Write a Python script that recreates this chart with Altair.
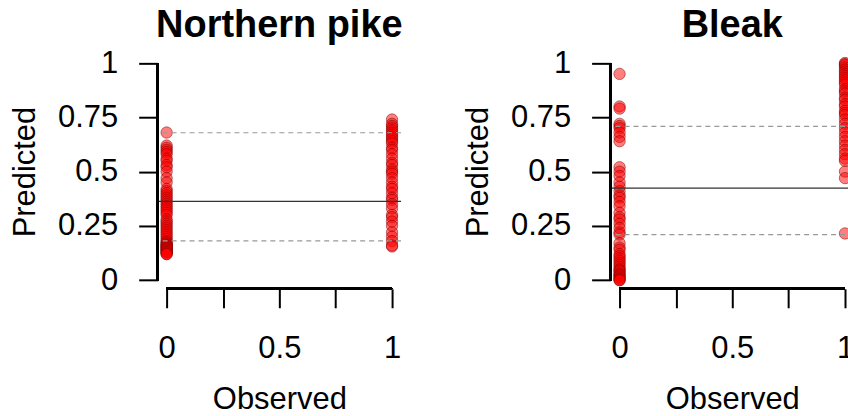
import altair as alt
import pandas as pd

FONT = "Liberation Sans"

# Northern pike: predicted values for observed absences (0) and presences (1)
pike_absent = [0.68, 0.62, 0.61, 0.60, 0.59, 0.58, 0.56, 0.55, 0.53, 0.52, 0.50, 0.47,
               0.45, 0.42, 0.41, 0.40, 0.39, 0.38, 0.37, 0.36, 0.35, 0.34, 0.33, 0.32,
               0.31, 0.30, 0.28, 0.27, 0.26, 0.25, 0.24, 0.23, 0.22, 0.21, 0.20, 0.19,
               0.18, 0.175, 0.17, 0.165, 0.16, 0.16, 0.155, 0.15, 0.15, 0.145, 0.14, 0.14,
               0.135, 0.13, 0.13, 0.125, 0.12, 0.12]
pike_present = [0.74, 0.72, 0.71, 0.70, 0.69, 0.68, 0.67, 0.66, 0.65, 0.64, 0.63, 0.61,
                0.60, 0.58, 0.56, 0.54, 0.53, 0.51, 0.50, 0.49, 0.47, 0.45, 0.43, 0.42,
                0.40, 0.38, 0.37, 0.35, 0.33, 0.30, 0.29, 0.27, 0.25, 0.22, 0.20, 0.18,
                0.16, 0.155]
pike_lines = {"mean": 0.363, "upper": 0.679, "lower": 0.181}

# Bleak
bleak_absent = [0.95, 0.80, 0.79, 0.72, 0.71, 0.70, 0.68, 0.66, 0.64, 0.52, 0.50, 0.48,
                0.45, 0.43, 0.41, 0.39, 0.38, 0.36, 0.34, 0.31, 0.29, 0.28, 0.26, 0.24,
                0.22, 0.21, 0.17, 0.15, 0.14, 0.12, 0.11, 0.10, 0.09, 0.08, 0.07, 0.06,
                0.05, 0.045, 0.04, 0.03, 0.025, 0.02, 0.015, 0.01, 0.005, 0.0, 0.0]
bleak_present = [1.0, 0.995, 0.99, 0.98, 0.97, 0.96, 0.95, 0.94, 0.93, 0.92, 0.91, 0.90,
                 0.88, 0.87, 0.86, 0.84, 0.83, 0.81, 0.80, 0.78, 0.77, 0.76, 0.74, 0.72,
                 0.70, 0.68, 0.66, 0.64, 0.62, 0.60, 0.58, 0.56, 0.55, 0.50, 0.47, 0.215]
bleak_lines = {"mean": 0.424, "upper": 0.708, "lower": 0.21}

x_ticks = [0, 0.25, 0.5, 0.75, 1]
y_ticks = [0, 0.25, 0.5, 0.75, 1]
LIM = [-0.04, 1.04]


def panel(title, absent, present, lines):
    pts = pd.DataFrame({
        "Observed": [0] * len(absent) + [1] * len(present),
        "Predicted": absent + present,
    })
    xs = alt.Scale(domain=LIM, nice=False, zero=False)
    ys = alt.Scale(domain=LIM, nice=False, zero=False)
    xaxis = alt.Axis(values=x_ticks, domain=False, grid=False, tickSize=19, tickWidth=2,
                     tickColor="black", labelFont=FONT, labelFontSize=31, labelColor="black",
                     labelPadding=26, labelExpr="datum.value == 0.25 || datum.value == 0.75 ? '' : toString(datum.value)",
                     title="Observed", titleFont=FONT, titleFontSize=31, titleFontWeight="normal",
                     titleColor="black", titlePadding=21)
    yaxis = alt.Axis(values=y_ticks, domain=False, grid=False, tickSize=19, tickWidth=2,
                     tickColor="black", labelFont=FONT, labelFontSize=31, labelColor="black",
                     labelPadding=21, labelExpr="toString(datum.value)",
                     title="Predicted", titleFont=FONT, titleFontSize=31, titleFontWeight="normal",
                     titleColor="black", titlePadding=16)
    points = alt.Chart(pts).mark_circle(
        size=130, fill="#ff0000", fillOpacity=0.5, stroke="#800000", strokeOpacity=0.5, strokeWidth=1
    ).encode(
        x=alt.X("Observed:Q", scale=xs, axis=xaxis),
        y=alt.Y("Predicted:Q", scale=ys, axis=yaxis),
    )
    ldf = pd.DataFrame({"kind": list(lines.keys()), "value": list(lines.values())})
    solid = alt.Chart(ldf).transform_filter("datum.kind == 'mean'").mark_rule(
        color="#333333", strokeWidth=1.2
    ).encode(y=alt.Y("value:Q", scale=ys))
    dashed = alt.Chart(ldf).transform_filter("datum.kind != 'mean'").mark_rule(
        color="#999999", strokeWidth=1.2, strokeDash=[5, 4]
    ).encode(y=alt.Y("value:Q", scale=ys))
    yline = alt.Chart(pts).mark_rule(color="black", strokeWidth=2).encode(
        x=alt.datum(LIM[0]), y=alt.datum(0), y2=alt.datum(1)
    )
    xline = alt.Chart(pts).mark_rule(color="black", strokeWidth=2).encode(
        y=alt.datum(LIM[0]), x=alt.datum(0), x2=alt.datum(1)
    )
    return alt.layer(points, solid, dashed, yline, xline).properties(
        width=244, height=235,
        title=alt.TitleParams(title, font=FONT, fontSize=38, fontWeight="bold",
                              color="black", anchor="middle", offset=2),
    )


chart = alt.hconcat(
    panel("Northern pike", pike_absent, pike_present, pike_lines),
    panel("Bleak", bleak_absent, bleak_present, bleak_lines),
    spacing=210, bounds="flush",
).configure_view(stroke=None).properties(
    padding={"left": 9, "top": 6, "right": -7, "bottom": 2},
    background="white",
)

chart.save("out.html", embed_options={"renderer": "svg", "actions": False})
